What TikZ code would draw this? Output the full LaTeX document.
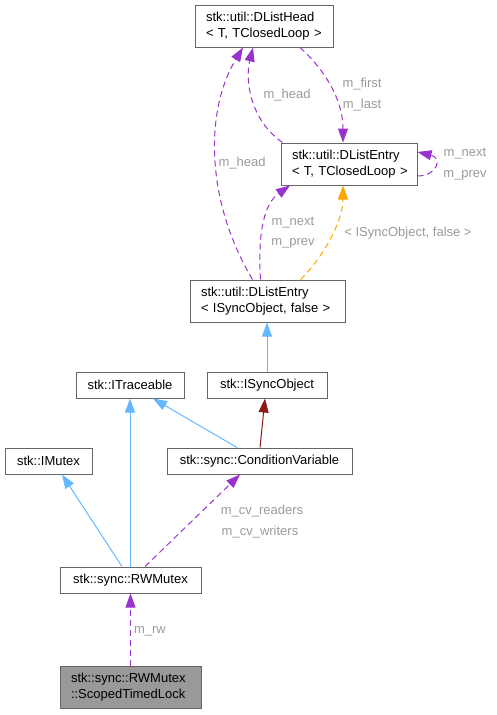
\documentclass[tikz,border=0pt]{standalone}
\usepackage{fontspec}
\setmainfont{Liberation Sans}
\usepackage{tikz}
\usetikzlibrary{arrows.meta, calc, positioning}
\definecolor{usepurple}{HTML}{9A32CD}
\definecolor{inhblue}{HTML}{63B8FF}
\definecolor{tplorange}{HTML}{FFA500}
\definecolor{privred}{HTML}{8B1A1A}
\definecolor{lblgray}{HTML}{9A9A9A}
\definecolor{boxgray}{HTML}{666666}
\definecolor{curfill}{HTML}{999999}
\newcommand{\twolines}[2]{\mbox{#1}\\\mbox{#2}}
\tikzset{
	cls/.style={draw=boxgray, line width=1pt, fill=white, rectangle, inner sep=0pt,
		font=\fontsize{13}{16}\selectfont, minimum height=26pt, minimum width=#1},
	clstwo/.style={cls=#1, align=left, text width=#1-22pt, inner xsep=11pt, minimum height=42pt},
	edgelbl/.style={text=lblgray, font=\fontsize{13}{16}\selectfont, inner sep=1pt},
	tip/.style={-{Triangle[length=14pt,width=10pt]}},
	usage/.style={tip, usepurple, line width=1pt, dash pattern=on 6pt off 4pt},
	tmpl/.style={tip, tplorange, line width=1pt, dash pattern=on 6pt off 4pt},
	pubinh/.style={tip, inhblue, line width=1pt},
	privinh/.style={tip, privred, line width=1pt}
}
\begin{document}
\begin{tikzpicture}[x=1pt, y=-1pt]
	\useasboundingbox (0,0) rectangle (497,715);
	
	\node[clstwo=138pt] (head) at (264,26) {\twolines{stk::util::DListHead}{< T, TClosedLoop >}};
	\node[clstwo=136pt] (entT) at (349,164) {\twolines{stk::util::DListEntry}{< T, TClosedLoop >}};
	\node[clstwo=155pt] (entS) at (267.5,301) {\twolines{stk::util::DListEntry}{< ISyncObject, false >}};
	\node[cls=108pt] (itr) at (130,385) {stk::ITraceable};
	\node[cls=120pt] (iso) at (267,385) {stk::ISyncObject};
	\node[cls=87pt] (imx) at (48.5,461) {stk::IMutex};
	\node[cls=185pt] (cv) at (259.5,461) {stk::sync::ConditionVariable};
	\node[cls=141pt] (rw) at (130.5,580) {stk::sync::RWMutex};
	\node[clstwo=141pt, fill=curfill] (stl) at (130.5,687) {\twolines{stk::sync::RWMutex}{::ScopedTimedLock}};
	
	\draw[usage] ([xshift=36pt]head.south) .. controls (325,70) and (343,100) .. ([xshift=-6pt]entT.north);
	\node[edgelbl] (lfirst) at (362,84) {m\_first};
	\node[edgelbl] (llast) at (362,105) {m\_last};
	
	\draw[usage] ([xshift=2pt]entT.north west) .. controls (250,120) and (245,80) .. ([xshift=-11pt]head.south);
	\node[edgelbl] (lhead1) at (287,95) {m\_head};
	
	\draw[usage] ([yshift=-12pt]entT.east) .. controls (437,176) and (443,158) .. ([yshift=12pt]entT.east);
	\node[edgelbl] (lnext1) at (465,154) {m\_next};
	\node[edgelbl] (lprev1) at (465,175) {m\_prev};
	
	\draw[usage] ([xshift=-15pt]entS.north) .. controls (205,200) and (205,110) .. ([xshift=-21pt]head.south);
	\node[edgelbl] (lhead2) at (242,163) {m\_head};
	
	\draw[usage] ([xshift=-7pt]entS.north) .. controls (258,240) and (262,205) .. ([xshift=-59pt]entT.south);
	\node[edgelbl] (lnext2) at (293,223) {m\_next};
	\node[edgelbl] (lprev2) at (293,243) {m\_prev};
	
	\draw[tmpl] ([xshift=33pt]entS.north) .. controls (325,255) and (343,220) .. ([xshift=-6pt]entT.south);
	\node[edgelbl] (ltmpl) at (408,233) {< ISyncObject, false >};
	
	\draw[pubinh] (iso) -- (iso |- entS.south);
	\draw[pubinh] (rw.north -| itr.south) -- (itr.south);
	\draw[pubinh] ([xshift=-22.5pt]cv.north) -- ([xshift=23pt]itr.south);
	\draw[privinh] ([xshift=0.5pt]cv.north) -- ([xshift=-2pt]iso.south);
	\draw[pubinh] ([xshift=-8.5pt]rw.north) -- ([xshift=13.5pt]imx.south);
	
	\draw[usage] ([xshift=14.5pt]rw.north) -- ([xshift=-19.5pt]cv.south);
	\node[edgelbl] (lcvr) at (262,511) {m\_cv\_readers};
	\node[edgelbl] (lcvw) at (260,532) {m\_cv\_writers};
	
	\draw[usage] (stl) -- (rw);
	\node[edgelbl] (lrw) at (150,631) {m\_rw};
\end{tikzpicture}
\end{document}
